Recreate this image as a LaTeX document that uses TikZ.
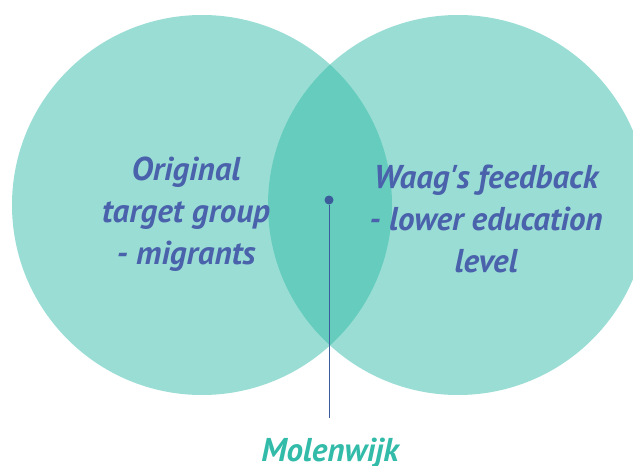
\documentclass[tikz,border=0pt]{standalone}
\usepackage{fontspec}
\setmainfont{PT Sans}
\definecolor{vennteal}{RGB}{51,187,169}
\definecolor{labelblue}{RGB}{74,97,171}
\definecolor{pinblue}{RGB}{59,91,155}

\begin{document}
\begin{tikzpicture}[x=1pt,y=-1pt,
  venn/.style={circle,minimum size=380pt,inner sep=0pt,fill=vennteal,fill opacity=0.5},
  setlabel/.style={align=center,text=labelblue,font=\fontsize{33}{42}\selectfont\bfseries\itshape}]
\useasboundingbox (0,0) rectangle (633,466);

\node[venn] (left) at (202,205) {};
\node[venn] (right) at (458,205) {};

\node[setlabel] (orig) at (186,214) {Original\\target group\\- migrants};
\node[setlabel] (waag) at (486,219) {Waag\textquotesingle s feedback\\- lower education\\level};

\node[circle,fill=pinblue,inner sep=0pt,minimum size=9pt] (pin) at (329,200) {};
\coordinate (pinend) at (329,418);
\draw[pinblue,line width=1pt] (pin) -- (pinend);

\node[anchor=base,text=vennteal,font=\fontsize{33}{40}\selectfont\bfseries\itshape] (molen) at (330,461) {Molenwijk};

\end{tikzpicture}
\end{document}
